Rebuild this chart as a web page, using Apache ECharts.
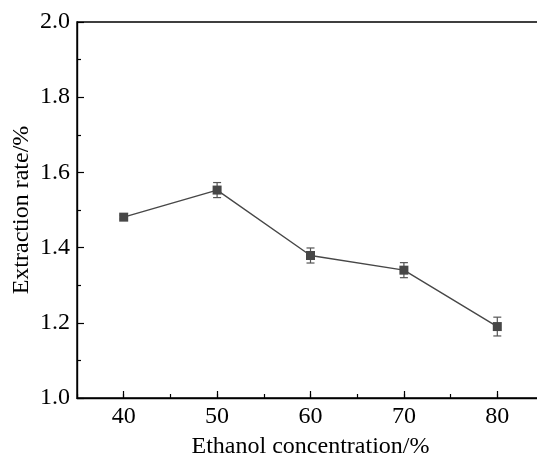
<!DOCTYPE html>
<html>
<head>
<meta charset="utf-8">
<script src="https://cdn.jsdelivr.net/npm/echarts@6/dist/echarts.min.js"></script>
<style>
	html, body { margin: 0; padding: 0; background: #fff; }
	#chart { width: 537px; height: 454px; }
</style>
</head>
<body>
<div id="chart"></div>
<script>
// ethanol concentration (%) and extraction rate (%)
var concentration = [40, 50, 60, 70, 80];
var extractionRate = [1.481, 1.553, 1.379, 1.340, 1.190];
var errorValue = [0.005, 0.02, 0.02, 0.02, 0.025];
var tickCategories = ['35', '40', '45', '50', '55', '60', '65', '70', '75', '80', '85'];

var lineData = [];
var errorData = [];
for (var i in concentration) {
	lineData.push([concentration[i], extractionRate[i]]);
	errorData.push([concentration[i], extractionRate[i] - errorValue[i], extractionRate[i] + errorValue[i]]);
}

var fontName = '"Liberation Serif", "Times New Roman", serif';
var chart = echarts.init(document.getElementById('chart'));

var option = {
	animation: false,
	grid: {
		left: 77,
		top: 22,
		right: -7,
		bottom: 56,
		outerBoundsMode: 'none',
		containLabel: false,
		show: true,
		borderColor: '#000',
		borderWidth: 1.4
	},
	xAxis: [{
		type: 'value',
		min: 35,
		max: 85,
		interval: 5,
		name: 'Ethanol concentration/%',
		nameLocation: 'middle',
		nameGap: 37,
		nameMoveOverlap: false,
		nameTextStyle: { fontFamily: fontName, fontSize: 24, color: '#000' },
		axisLine: { show: true, lineStyle: { color: '#000', width: 1.4 } },
		axisTick: { show: true, inside: true, length: 4, lineStyle: { color: '#000', width: 1.2 } },
		axisLabel: {
			margin: 7,
			fontFamily: fontName, fontSize: 24, color: '#000',
			formatter: function(v) { return v % 10 === 0 ? String(v) : ''; }
		},
		splitLine: { show: false }
	}, {
		// only draws the longer ticks at the labelled values
		type: 'category',
		data: tickCategories,
		boundaryGap: false,
		position: 'bottom',
		axisLine: { show: false },
		axisLabel: { show: false },
		axisTick: {
			show: true, inside: true, length: 7,
			interval: function(index, value) { return Number(value) % 10 === 0; },
			lineStyle: { color: '#000', width: 1.2 }
		},
		splitLine: { show: false }
	}],
	yAxis: {
		type: 'value',
		min: 1.0,
		max: 2.0,
		interval: 0.2,
		name: 'Extraction rate/%',
		nameLocation: 'middle',
		nameGap: 43,
		nameMoveOverlap: false,
		nameTextStyle: { fontFamily: fontName, fontSize: 24, color: '#000' },
		axisLine: { show: true, lineStyle: { color: '#000', width: 1.4 } },
		axisTick: { show: true, inside: true, length: 7, lineStyle: { color: '#000', width: 1.2 } },
		minorTick: { show: true, splitNumber: 2, length: 4, lineStyle: { color: '#000', width: 1.2 } },
		axisLabel: {
			margin: 7,
			fontFamily: fontName, fontSize: 24, color: '#000',
			formatter: function(v) { return v.toFixed(1); }
		},
		splitLine: { show: false }
	},
	series: [{
		type: 'custom',
		xAxisIndex: 0,
		data: errorData,
		z: 1,
		renderItem: function(params, api) {
			var x = api.value(0);
			var lo = api.coord([x, api.value(1)]);
			var hi = api.coord([x, api.value(2)]);
			var cap = 4;
			var style = { stroke: '#555', lineWidth: 1.2 };
			return {
				type: 'group',
				children: [
					{ type: 'line', shape: { x1: lo[0], y1: lo[1], x2: hi[0], y2: hi[1] }, style: style },
					{ type: 'line', shape: { x1: lo[0] - cap, y1: lo[1], x2: lo[0] + cap, y2: lo[1] }, style: style },
					{ type: 'line', shape: { x1: hi[0] - cap, y1: hi[1], x2: hi[0] + cap, y2: hi[1] }, style: style }
				]
			};
		}
	}, {
		type: 'line',
		xAxisIndex: 0,
		data: lineData,
		z: 3,
		symbol: 'rect',
		symbolSize: 9,
		itemStyle: { color: '#474747' },
		lineStyle: { color: '#474747', width: 1.4 }
	}]
};

chart.setOption(option);
</script>
</body>
</html>
